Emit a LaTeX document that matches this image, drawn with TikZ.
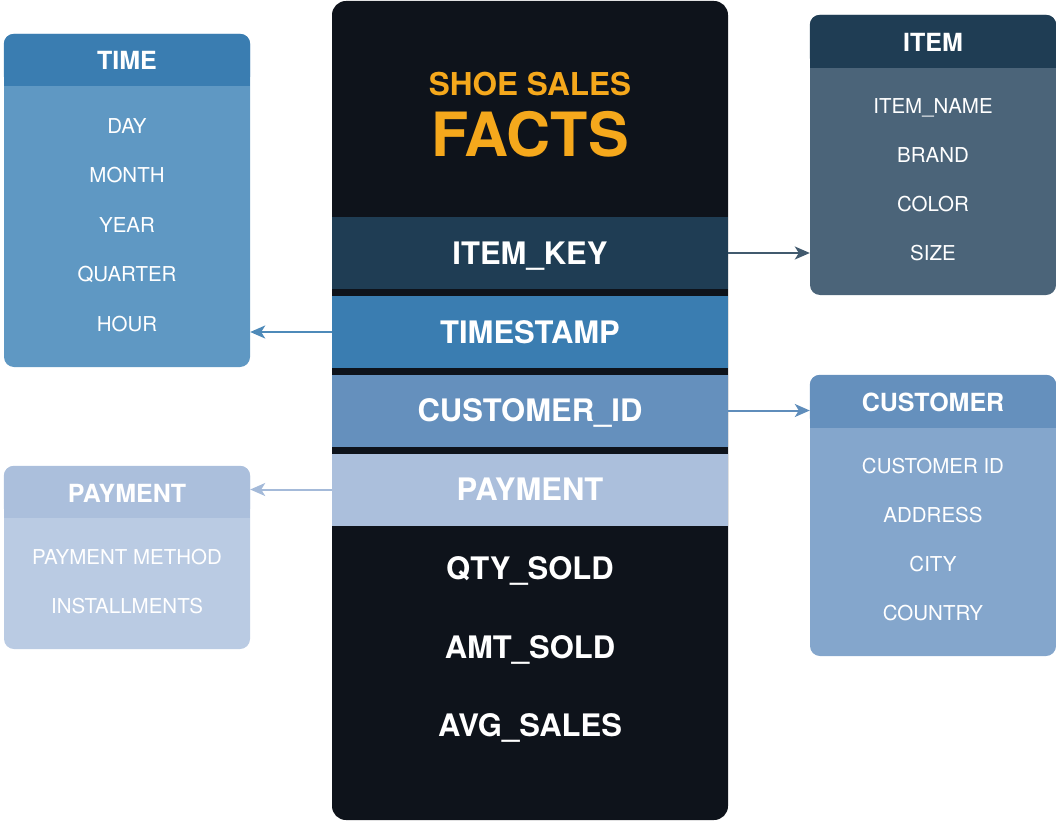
\documentclass[tikz,border=0pt]{standalone}
\usepackage{fontspec}
\setmainfont{TeX Gyre Heros}
\usetikzlibrary{positioning}
\usetikzlibrary{arrows.meta}

\definecolor{factink}{HTML}{0E131B}
\definecolor{factgold}{HTML}{F5A81C}
\definecolor{itemhead}{HTML}{1F3D54}
\definecolor{itembody}{HTML}{4B6479}
\definecolor{timehead}{HTML}{3A7DB1}
\definecolor{timebody}{HTML}{5F98C3}
\definecolor{custhead}{HTML}{6590BD}
\definecolor{custbody}{HTML}{84A6CC}
\definecolor{payhead}{HTML}{ABBFDC}
\definecolor{paybody}{HTML}{BACBE3}

\begin{document}
\begin{tikzpicture}[x=1pt, y=-1pt,
    fact/.style={fill=factink, rounded corners=14pt, minimum width=396pt, minimum height=819pt, inner sep=0pt},
    band/.style={minimum width=396pt, minimum height=72pt, inner sep=0pt, text=white,
        font=\fontsize{31}{31}\selectfont\bfseries, text height=22.3pt, text depth=0pt},
    dimbox/.style={rounded corners=10pt, minimum width=246pt, inner sep=0pt},
    dimhead/.style={text=white, inner sep=0pt,
        font=\fontsize{25}{25}\selectfont\bfseries, text height=18pt, text depth=0pt},
    attr/.style={text=white, inner sep=0pt,
        font=\fontsize{20.5}{20.5}\selectfont, text height=14.8pt, text depth=0pt},
    link/.style={line width=2pt, -{Stealth[length=15pt, width=13pt, inset=4pt]}}]
    \useasboundingbox (0,0) rectangle (1056,821);

    % fact table
    \node[fact] (facts) at (530,410.5) {};
    \node[text=factgold, font=\fontsize{31.5}{31.5}\selectfont\bfseries, text height=22.7pt, text depth=0pt, inner sep=0pt]
        (shoe) at (530,84) {SHOE SALES};
    \node[text=factgold, font=\fontsize{61}{61}\selectfont\bfseries, text height=44pt, text depth=0pt, inner sep=0pt]
        (factttl) at (530,135) {FACTS};
    \node[band, fill=itemhead] (itemkey) at (530,253) {ITEM\_KEY};
    \node[band, fill=timehead] (tstamp) at (530,332) {TIMESTAMP};
    \node[band, fill=custhead] (custid) at (530,410.5) {CUSTOMER\_ID};
    \node[band, fill=payhead] (paykey) at (530,489.5) {PAYMENT};
    \node[band] (qty) at (530,568) {QTY\_SOLD};
    \node[band] (amt) at (530,647) {AMT\_SOLD};
    \node[band] (avg) at (530,725) {AVG\_SALES};

    % dimension tables
    \node[dimbox, fill=timebody, minimum height=333pt] (time) at (127,200.5) {};
    \fill[timehead, rounded corners=10pt] (time.north west) rectangle ([yshift=-52pt]time.north east);
    \fill[timehead] ([yshift=-30pt]time.north west) rectangle ([yshift=-52pt]time.north east);
    \node[dimhead] (time-ttl) at ([yshift=-27pt]time.north) {TIME};
    \foreach \a [count=\i from 0] in {DAY,MONTH,YEAR,QUARTER,HOUR}
        \node[attr] (time-\i) at ([yshift={-92pt-\i*49.5pt}]time.north) {\a};

    \node[dimbox, fill=paybody, minimum height=183pt] (pay) at (127,557.5) {};
    \fill[payhead, rounded corners=10pt] (pay.north west) rectangle ([yshift=-52pt]pay.north east);
    \fill[payhead] ([yshift=-30pt]pay.north west) rectangle ([yshift=-52pt]pay.north east);
    \node[dimhead] (pay-ttl) at ([yshift=-28pt]pay.north) {PAYMENT};
    \foreach \a [count=\i from 0] in {PAYMENT METHOD,INSTALLMENTS}
        \node[attr] (pay-\i) at ([yshift={-91pt-\i*49pt}]pay.north) {\a};

    \node[dimbox, fill=itembody, minimum height=280pt] (item) at (933,155) {};
    \fill[itemhead, rounded corners=10pt] (item.north west) rectangle ([yshift=-53pt]item.north east);
    \fill[itemhead] ([yshift=-30pt]item.north west) rectangle ([yshift=-53pt]item.north east);
    \node[dimhead] (item-ttl) at ([yshift=-28pt]item.north) {ITEM};
    \foreach \a [count=\i from 0] in {ITEM\_NAME,BRAND,COLOR,SIZE}
        \node[attr] (item-\i) at ([yshift={-91pt-\i*49pt}]item.north) {\a};

    \node[dimbox, fill=custbody, minimum height=281pt] (cust) at (933,515.5) {};
    \fill[custhead, rounded corners=10pt] (cust.north west) rectangle ([yshift=-53pt]cust.north east);
    \fill[custhead] ([yshift=-30pt]cust.north west) rectangle ([yshift=-53pt]cust.north east);
    \node[dimhead] (cust-ttl) at ([yshift=-28pt]cust.north) {CUSTOMER};
    \foreach \a [count=\i from 0] in {CUSTOMER ID,ADDRESS,CITY,COUNTRY}
        \node[attr] (cust-\i) at ([yshift={-91pt-\i*49pt}]cust.north) {\a};

    % keys to dimensions
    \draw[link, color=itemhead!85!white] (itemkey.east) -- (itemkey.east -| item.west);
    \draw[link, color=timehead!90!white] (tstamp.west) -- (tstamp.west -| time.east);
    \draw[link, color=custhead!85!timehead] (custid.east) -- (custid.east -| cust.west);
    \draw[link, color=payhead!90!custhead] (paykey.west) -- (paykey.west -| pay.east);
\end{tikzpicture}
\end{document}
